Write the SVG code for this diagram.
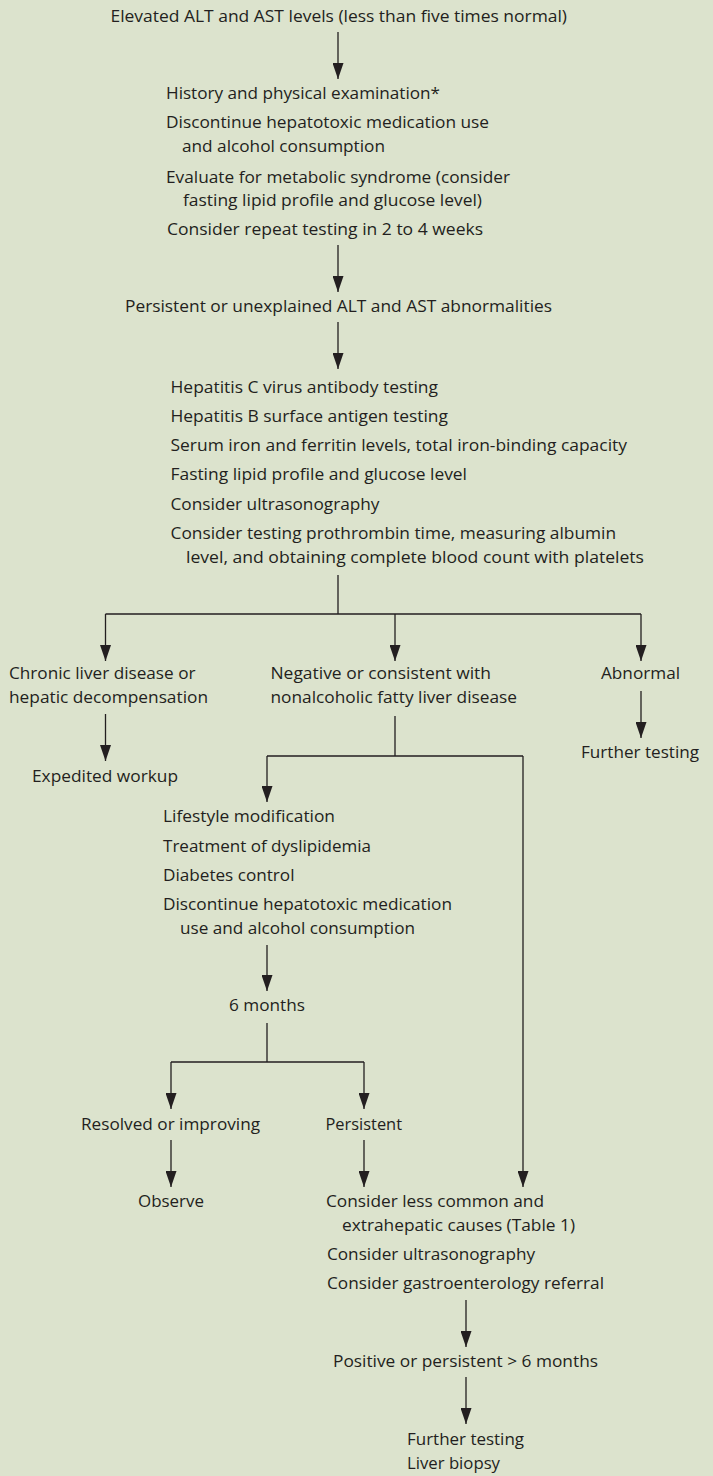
<svg xmlns="http://www.w3.org/2000/svg" width="713" height="1476" viewBox="0 0 713 1476">
<style>
text{font-family:"Open Sans","Noto Sans","DejaVu Sans",sans-serif;font-size:16px;fill:#231f20}
.c{fill:none;stroke:#231f20;stroke-width:1.3}
.a{marker-end:url(#ah)}
</style>
<defs>
<marker id="ah" markerUnits="userSpaceOnUse" viewBox="0 0 16 11" markerWidth="16" markerHeight="11" refX="16" refY="5.5" orient="auto">
<path d="M0,0 L16,5.5 L0,11 z" fill="#231f20"/>
</marker>
</defs>
<rect width="713" height="1476" fill="#dce3cd"/>
<g id="connectors">
<path class="c a" d="M338,32 V79"/>
<path class="c a" d="M338,245 V292"/>
<path class="c a" d="M338,322 V369"/>
<path class="c" d="M338,575 V614 M105.5,614 H641"/>
<path class="c a" d="M105.5,614 V661"/>
<path class="c a" d="M395,614 V661"/>
<path class="c a" d="M641,614 V661"/>
<path class="c a" d="M641,691 V738"/>
<path class="c a" d="M105.5,714 V761"/>
<path class="c" d="M395,716 V756 M267,756 H523"/>
<path class="c a" d="M267,756 V802"/>
<path class="c a" d="M523,756 V1187"/>
<path class="c a" d="M267,945 V991"/>
<path class="c" d="M267,1023 V1062 M171,1062 H364"/>
<path class="c a" d="M171,1062 V1109"/>
<path class="c a" d="M364,1062 V1109"/>
<path class="c a" d="M171,1140 V1187"/>
<path class="c a" d="M364,1140 V1187"/>
<path class="c a" d="M466,1300 V1347"/>
<path class="c a" d="M466,1377 V1424"/>
</g>
<g id="n-elevated">
<text x="110.5" y="22" textLength="456.5" lengthAdjust="spacingAndGlyphs">Elevated ALT and AST levels (less than five times normal)</text>
</g>
<g id="n-initial">
<text x="166" y="99" textLength="274" lengthAdjust="spacingAndGlyphs">History and physical examination*</text>
<text x="166" y="128" textLength="323" lengthAdjust="spacingAndGlyphs">Discontinue hepatotoxic medication use</text>
<text x="182" y="152" textLength="203" lengthAdjust="spacingAndGlyphs">and alcohol consumption</text>
<text x="166" y="183" textLength="344" lengthAdjust="spacingAndGlyphs">Evaluate for metabolic syndrome (consider</text>
<text x="183" y="206" textLength="299" lengthAdjust="spacingAndGlyphs">fasting lipid profile and glucose level)</text>
<text x="167" y="235" textLength="316" lengthAdjust="spacingAndGlyphs">Consider repeat testing in 2 to 4 weeks</text>
</g>
<g id="n-persistent">
<text x="125" y="312" textLength="427" lengthAdjust="spacingAndGlyphs">Persistent or unexplained ALT and AST abnormalities</text>
</g>
<g id="n-tests">
<text x="170.5" y="393" textLength="267.5" lengthAdjust="spacingAndGlyphs">Hepatitis C virus antibody testing</text>
<text x="170.5" y="422" textLength="277.5" lengthAdjust="spacingAndGlyphs">Hepatitis B surface antigen testing</text>
<text x="170.5" y="451" textLength="456.5" lengthAdjust="spacingAndGlyphs">Serum iron and ferritin levels, total iron-binding capacity</text>
<text x="170.5" y="480" textLength="296.5" lengthAdjust="spacingAndGlyphs">Fasting lipid profile and glucose level</text>
<text x="170.5" y="510" textLength="209" lengthAdjust="spacingAndGlyphs">Consider ultrasonography</text>
<text x="170.5" y="539" textLength="445.5" lengthAdjust="spacingAndGlyphs">Consider testing prothrombin time, measuring albumin</text>
<text x="186" y="563" textLength="458" lengthAdjust="spacingAndGlyphs">level, and obtaining complete blood count with platelets</text>
</g>
<g id="n-chronic">
<text x="9" y="679" textLength="186.5" lengthAdjust="spacingAndGlyphs">Chronic liver disease or</text>
<text x="9" y="703" textLength="199" lengthAdjust="spacingAndGlyphs">hepatic decompensation</text>
</g>
<g id="n-expedited">
<text x="32" y="782" textLength="146" lengthAdjust="spacingAndGlyphs">Expedited workup</text>
</g>
<g id="n-negative">
<text x="270.5" y="679" textLength="220.5" lengthAdjust="spacingAndGlyphs">Negative or consistent with</text>
<text x="270.5" y="703" textLength="246.5" lengthAdjust="spacingAndGlyphs">nonalcoholic fatty liver disease</text>
</g>
<g id="n-abnormal">
<text x="601" y="679" textLength="79" lengthAdjust="spacingAndGlyphs">Abnormal</text>
</g>
<g id="n-further1">
<text x="581" y="758" textLength="118" lengthAdjust="spacingAndGlyphs">Further testing</text>
</g>
<g id="n-lifestyle">
<text x="163" y="822" textLength="172" lengthAdjust="spacingAndGlyphs">Lifestyle modification</text>
<text x="163" y="852" textLength="208" lengthAdjust="spacingAndGlyphs">Treatment of dyslipidemia</text>
<text x="163" y="881" textLength="131.5" lengthAdjust="spacingAndGlyphs">Diabetes control</text>
<text x="163" y="910" textLength="289" lengthAdjust="spacingAndGlyphs">Discontinue hepatotoxic medication</text>
<text x="180" y="934" textLength="235" lengthAdjust="spacingAndGlyphs">use and alcohol consumption</text>
</g>
<g id="n-6months">
<text x="229" y="1011" textLength="76" lengthAdjust="spacingAndGlyphs">6 months</text>
</g>
<g id="n-resolved">
<text x="81" y="1130" textLength="179" lengthAdjust="spacingAndGlyphs">Resolved or improving</text>
</g>
<g id="n-persistent2">
<text x="325.5" y="1130" textLength="76.5" lengthAdjust="spacingAndGlyphs">Persistent</text>
</g>
<g id="n-observe">
<text x="138" y="1207" textLength="66" lengthAdjust="spacingAndGlyphs">Observe</text>
</g>
<g id="n-consider">
<text x="326" y="1207" textLength="218" lengthAdjust="spacingAndGlyphs">Consider less common and</text>
<text x="342" y="1231" textLength="233" lengthAdjust="spacingAndGlyphs">extrahepatic causes (Table 1)</text>
<text x="327" y="1260" textLength="208" lengthAdjust="spacingAndGlyphs">Consider ultrasonography</text>
<text x="327" y="1289" textLength="277" lengthAdjust="spacingAndGlyphs">Consider gastroenterology referral</text>
</g>
<g id="n-positive">
<text x="333" y="1367" textLength="265" lengthAdjust="spacingAndGlyphs">Positive or persistent &gt; 6 months</text>
</g>
<g id="n-further2">
<text x="407" y="1445" textLength="117" lengthAdjust="spacingAndGlyphs">Further testing</text>
<text x="407" y="1469" textLength="93" lengthAdjust="spacingAndGlyphs">Liver biopsy</text>
</g>
</svg>
